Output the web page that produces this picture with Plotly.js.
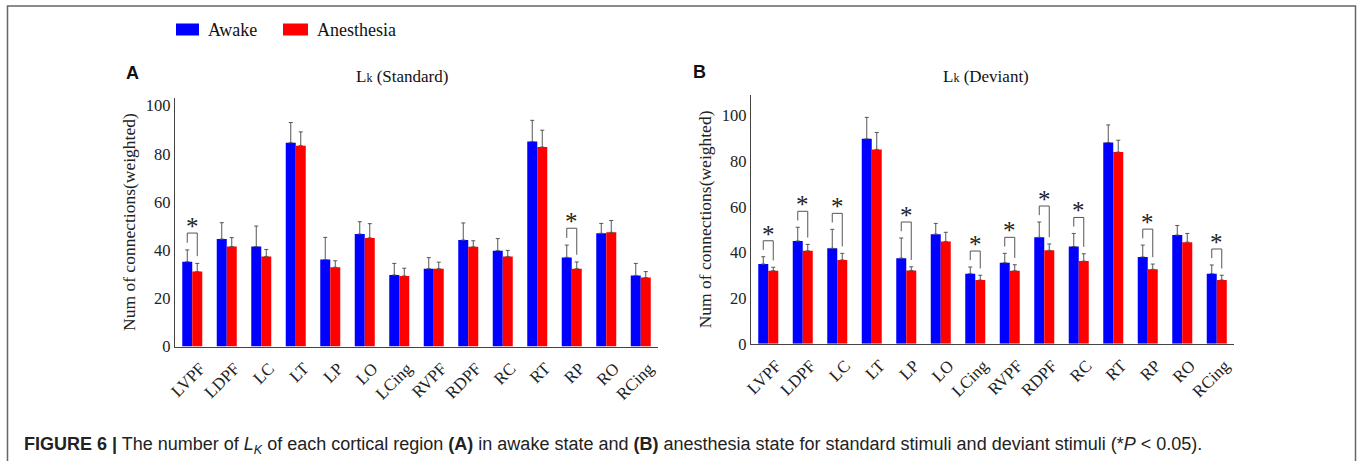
<!DOCTYPE html>
<html>
<head>
<meta charset="utf-8">
<script src="https://cdn.plot.ly/plotly-3.0.1.min.js"></script>
<style>html,body{margin:0;padding:0;background:#fff;}#chart{width:1357px;height:461px;}</style>
</head>
<body>
<div id="chart"></div>
<script>
// ---- Data ----
const regions = ["LVPF","LDPF","LC","LT","LP","LO","LCing","RVPF","RDPF","RC","RT","RP","RO","RCing"];

// Panel A: Lk (Standard)
const awakeA      = [35.2, 44.6, 41.5, 84.6, 36.1, 46.7, 29.7, 32.3, 44.2, 39.8, 85.1, 37.0, 47.0, 29.5];
const awakeA_err  = [ 4.9,  6.8,  8.5,  8.4,  9.2,  5.1,  4.8,  4.6,  7.1,  5.0,  8.8,  5.1,  4.1,  5.0];
const anesA       = [31.1, 41.5, 37.4, 83.4, 32.9, 45.1, 29.3, 32.3, 41.4, 37.4, 82.8, 32.3, 47.4, 28.6];
const anesA_err   = [ 3.4,  3.7,  2.9,  5.7,  2.7,  5.9,  3.2,  2.7,  2.5,  2.5,  7.0,  2.8,  4.9,  2.5];
const sigA        = [1,0,0,0,0,0,0,0,0,0,0,1,0,0];

// Panel B: Lk (Deviant)
const awakeB      = [34.9, 45.0, 41.8, 89.7, 37.5, 48.0, 30.7, 35.5, 46.6, 42.6, 88.1, 38.0, 47.6, 30.7];
const awakeB_err  = [ 3.2,  6.0,  8.3,  9.4,  8.8,  4.7,  2.9,  4.1,  6.7,  5.7,  7.7,  5.2,  4.2,  3.8];
const anesB       = [32.0, 40.7, 36.7, 85.1, 32.1, 44.8, 27.9, 32.0, 40.9, 36.2, 83.9, 32.6, 44.5, 27.9];
const anesB_err   = [ 1.5,  2.8,  2.9,  7.4,  1.6,  4.0,  2.1,  2.6,  2.8,  3.2,  5.2,  2.3,  3.8,  2.1];
const sigB        = [1,1,1,0,1,0,1,1,1,1,0,1,0,1];

const seriesNames = ["Awake", "Anesthesia"];
const seriesColors = ["#0000FF", "#FF0000"];

// ---- Build ----
const W = 1357, H = 461;
const px = v => v / W;
const py = v => 1 - v / H;
const serif = "Liberation Serif, Times New Roman, serif";
const sans = "Liberation Sans, Arial, sans-serif";

function barTrace(y, err, name, color, xa, ya) {
  return {
    type: "bar", x: regions, y: y, name: name, xaxis: xa, yaxis: ya,
    marker: {color: color, line: {width: 0}},
    showlegend: false,
    error_y: {type: "data", symmetric: false, array: err, arrayminus: err.map(() => 0),
              color: "#555", thickness: 1, width: 2}
  };
}

const data = [
  barTrace(awakeA, awakeA_err, seriesNames[0], seriesColors[0], "x", "y"),
  barTrace(anesA, anesA_err, seriesNames[1], seriesColors[1], "x", "y"),
  barTrace(awakeB, awakeB_err, seriesNames[0], seriesColors[0], "x2", "y2"),
  barTrace(anesB, anesB_err, seriesNames[1], seriesColors[1], "x2", "y2")
];

const bargap = 0.42;
const half = (1 - bargap) / 4; // offset of each bar center from category center

const shapes = [];
const annotations = [];

function addBrackets(sig, a, aErr, b, bErr, xr, yr) {
  sig.forEach((s, i) => {
    if (!s) return;
    const ta = a[i] + aErr[i], tb = b[i] + bErr[i];
    const top = Math.max(ta, tb) + 7;
    const xl = i - half, xrr = i + half;
    shapes.push({type: "path", xref: xr, yref: yr,
      path: `M${xl},${ta + 3} L${xl},${top} L${xrr},${top} L${xrr},${tb + 3}`,
      line: {color: "#555", width: 1}});
    annotations.push({xref: xr, yref: yr, x: i, y: top, text: "*", showarrow: false,
      yanchor: "bottom", yshift: -9, font: {family: serif, size: 25, color: "#222"}});
  });
}
addBrackets(sigA, awakeA, awakeA_err, anesA, anesA_err, "x", "y");
addBrackets(sigB, awakeB, awakeB_err, anesB, anesB_err, "x2", "y2");

// Figure border
shapes.push({type: "rect", xref: "paper", yref: "paper", x0: px(7.5), x1: px(1355.5), y0: -0.1, y1: py(6),
  line: {color: "#666", width: 1.5}, layer: "below"});

// Legend (manual)
const legendItems = [
  {x0: 176, x1: 199, tx: 206},
  {x0: 283, x1: 308, tx: 315}
];
legendItems.forEach((it, k) => {
  shapes.push({type: "rect", xref: "paper", yref: "paper", x0: px(it.x0), x1: px(it.x1),
    y0: py(35.5), y1: py(23.5), fillcolor: seriesColors[k], line: {width: 0}});
  annotations.push({xref: "paper", yref: "paper", x: px(it.tx), y: py(30), xanchor: "left", yanchor: "middle",
    text: seriesNames[k], showarrow: false, font: {family: serif, size: 18, color: "#111"}});
});

// Panel titles and letters
annotations.push({xref: "paper", yref: "paper", x: px(354), y: py(76.5), xanchor: "left", yanchor: "middle",
  text: "L<span style='font-size:12px'>k</span> (Standard)", showarrow: false, font: {family: serif, size: 17, color: "#111"}});
annotations.push({xref: "paper", yref: "paper", x: px(941), y: py(76.5), xanchor: "left", yanchor: "middle",
  text: "L<span style='font-size:12px'>k</span> (Deviant)", showarrow: false, font: {family: serif, size: 17, color: "#111"}});
annotations.push({xref: "paper", yref: "paper", x: px(124), y: py(73), xanchor: "left", yanchor: "middle",
  text: "<b>A</b>", showarrow: false, font: {family: sans, size: 18, color: "#111"}});
annotations.push({xref: "paper", yref: "paper", x: px(691), y: py(72), xanchor: "left", yanchor: "middle",
  text: "<b>B</b>", showarrow: false, font: {family: sans, size: 18, color: "#111"}});

// Caption
annotations.push({xref: "paper", yref: "paper", x: px(22), y: py(445), xanchor: "left", yanchor: "middle",
  text: "<b>FIGURE 6 |</b> The number of <i>L<sub>K</sub></i> of each cortical region <b>(A)</b> in awake state and <b>(B)</b> anesthesia state for standard stimuli and deviant stimuli (*<i>P</i> &lt; 0.05).",
  showarrow: false, font: {family: sans, size: 18, color: "#222"}});

function xaxis(domain, anchor) {
  return {domain: domain, anchor: anchor, type: "category", showgrid: false, zeroline: false,
    showline: true, linecolor: "#444", linewidth: 1.3, ticks: "", tickangle: -45,
    ticklabelshift: 8, ticklabelstandoff: 4,
    tickfont: {family: serif, size: 17, color: "#222"}, fixedrange: true};
}
function yaxis(domain, anchor, range) {
  return {domain: domain, anchor: anchor, range: range, showgrid: false, zeroline: false,
    showline: true, linecolor: "#444", linewidth: 1.3, ticks: "", dtick: 20,
    tickfont: {family: serif, size: 16.5, color: "#222"},
    title: {text: "Num of connections(weighted)", font: {family: serif, size: 17.5, color: "#222"}, standoff: 5},
    fixedrange: true};
}

const layout = {
  width: W, height: H,
  margin: {l: 0, r: 0, t: 0, b: 0},
  paper_bgcolor: "#fff", plot_bgcolor: "#fff",
  showlegend: false,
  barmode: "group", bargap: bargap, bargroupgap: 0,
  xaxis: xaxis([px(175), px(658)], "y"),
  yaxis: yaxis([py(346.5), py(97.7)], "x", [0, 103.3]),
  xaxis2: xaxis([px(751), px(1234)], "y2"),
  yaxis2: yaxis([py(343.8), py(95)], "x2", [0, 108.9]),
  shapes: shapes,
  annotations: annotations
};

Plotly.newPlot("chart", data, layout, {staticPlot: true, displayModeBar: false});
</script>
</body>
</html>
